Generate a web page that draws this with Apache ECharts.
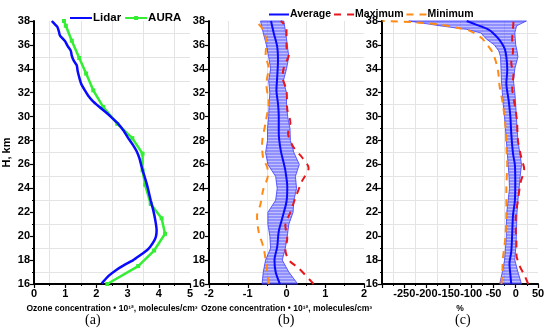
<!DOCTYPE html>
<html><head><meta charset="utf-8">
<script src="https://cdn.jsdelivr.net/npm/echarts@6/dist/echarts.min.js"></script>
<style>html,body{margin:0;padding:0;background:#fff}#c{width:550px;height:335px}</style>
</head><body><div id="c"></div>
<script>
// ---- Panel (a): ozone concentration profiles [value, altitude km]
const lidar = [[0.57,38],[0.68,37.7],[0.75,37.5],[0.8,37.1],[0.83,36.8],[0.93,36.5],[1.0,36.3],[1.08,35.9],[1.18,35.5],[1.21,35.1],[1.27,34.7],[1.37,34.3],[1.4,33.8],[1.47,33.1],[1.52,32.7],[1.63,32.2],[1.75,31.7],[1.9,31.25],[2.1,30.8],[2.33,30.3],[2.5,29.9],[2.7,29.4],[2.88,28.8],[3.02,28.2],[3.18,27.6],[3.29,27.1],[3.38,26.5],[3.45,25.8],[3.52,25.2],[3.6,24.5],[3.66,23.9],[3.74,23.0],[3.82,22.2],[3.89,21.3],[3.93,20.5],[3.91,20.0],[3.85,19.6],[3.72,19.1],[3.61,18.8],[3.4,18.4],[3.18,18.0],[2.9,17.6],[2.65,17.2],[2.4,16.7],[2.17,16.05]];
const aura = [[0.96,38],[1.02,37.6],[1.21,36.35],[1.45,34.9],[1.67,33.6],[1.9,32.2],[2.22,30.8],[2.67,29.4],[3.15,28.2],[3.48,26.9],[3.48,25.5],[3.56,24.3],[3.74,22.7],[4.09,21.5],[4.2,20.2],[3.85,18.8],[3.34,17.5],[2.35,16.0]];

// ---- Panel (b): absolute difference
const bAvg = [[-0.17,16],[-0.28,17],[-0.31,18],[-0.24,19.1],[-0.2,20.4],[-0.11,21.5],[0,22.9],[0.02,24.1],[-0.03,25.5],[-0.07,26.1],[-0.15,27.2],[-0.2,28.6],[-0.2,30],[-0.22,31.1],[-0.26,32.2],[-0.24,33.3],[-0.22,34.7],[-0.24,35.85],[-0.33,37],[-0.40,38]];
const bBandH = [16,17,18,19,20,21,22,23,24,25,26,27,28,29,30,31,32,33,34,35,36,37,38];
const bBandLo = [-0.63,-0.6,-0.54,-0.41,-0.43,-0.48,-0.48,-0.28,-0.24,-0.28,-0.48,-0.54,-0.49,-0.49,-0.46,-0.45,-0.43,-0.46,-0.41,-0.46,-0.52,-0.6,-0.67];
const bBandHi = [0.29,0.06,-0.11,-0.03,0.02,0.06,0.17,0.19,0.26,0.23,0.33,0.19,0.1,0.09,0.03,0.0,0.0,-0.08,0.0,0.06,0.02,-0.02,-0.07];
const bMax = [[0.7,16],[0.32,17.3],[0.06,18],[-0.03,18.9],[0.02,19.8],[-0.03,20.9],[0.1,22],[0.23,23.2],[0.4,24.6],[0.57,25.7],[0.4,26.6],[0.19,27.4],[0.04,28.6],[0.1,29.5],[0.02,30.6],[0,32.2],[-0.1,33.3],[-0.07,34.1],[0.06,35.2],[0,35.8],[0,37.4],[-0.15,38]];
const bMin = [[-0.46,16],[-0.52,17.6],[-0.59,19],[-0.72,20.4],[-0.76,21.7],[-0.67,22.7],[-0.6,23.9],[-0.48,25.1],[-0.5,25.8],[-0.6,26.5],[-0.63,27.7],[-0.54,29.5],[-0.46,31.2],[-0.52,32.7],[-0.46,34.1],[-0.54,35.1],[-0.52,36.3],[-0.63,37.4],[-0.8,38]];

// ---- Panel (c): relative difference, %
const cAvg = [[-10,16],[-12,16.8],[-14,17.7],[-10,18.7],[-8,20.1],[-6,21.8],[-2,22.9],[-1,24.6],[-2,26],[-6,26.9],[-10,28.6],[-12,30],[-16,31.4],[-21,32.8],[-19,33.9],[-21,35],[-25,35.7],[-36,36.4],[-51,37],[-62,37.3],[-89,37.7],[-110,38]];
const cBandH = [16,17,18,19,20,21,22,23,24,25,26,27,28,29,30,31,32,33,34,35,35.5,36,36.5,37,37.3,37.6,38];
const cBandLo = [-36,-30,-25,-23,-21,-21,-20,-17,-14,-15,-17,-19,-21,-23,-25,-28,-30,-32,-33,-34,-38,-48,-66,-78,-110,-170,-240];
const cBandHi = [13,5,-2,0,1.5,2,3,5,7.6,10,13,9,5,3,1.5,0,-2,-5,-2,5,3,0,-1,-2,0,2,24];
const cMax = [[28,16],[20,16.7],[9,17.5],[1.5,18.5],[1.5,19.5],[0,20.5],[0,21.5],[5,23],[11,24.5],[19,25.6],[13,26.5],[5,28],[3,29.5],[0,30.5],[-8,32.5],[-5,33.5],[-10,34.5],[-6,35.5],[-8,36.5],[-6,37.4],[-5,38]];
const cMin = [[-32,16],[-30,17],[-29,18],[-23,20],[-21,22],[-21,24],[-19,26],[-21,27.5],[-23,29.2],[-29,31.1],[-36,32.5],[-40,33.9],[-51,35.3],[-66,36.1],[-77,36.6],[-104,37.2],[-126,37.4],[-171,37.7],[-231,37.9],[-299,38]];

const xNameA = 'Ozone concentration \u2022 10\u00B9\u00B2, molecules/cm\u00B3';

// striped band pattern
const pat = document.createElement('canvas');
pat.width = 4; pat.height = 3;
const pc = pat.getContext('2d');
pc.fillStyle = 'rgba(70,70,255,0.6)'; pc.fillRect(0,0,4,2);
pc.fillStyle = 'rgba(150,150,255,0.6)'; pc.fillRect(0,2,4,1);

function bandSeries(lo, hi, hs, idx){
  return {
    type:'custom', xAxisIndex:idx, yAxisIndex:idx, z:1, silent:true,
    data: hs.map((h,i)=>[lo[i],hi[i],h]),
    encode:{x:[0,1], y:2},
    renderItem:function(params, api){
      if (params.dataIndex !== 0) return null;
      const pts = [];
      for (let i=0;i<hs.length;i++) pts.push(api.coord([lo[i], hs[i]]));
      for (let i=hs.length-1;i>=0;i--) pts.push(api.coord([hi[i], hs[i]]));
      return {type:'polygon', shape:{points:pts},
        style:{fill:{image:pat, repeat:'repeat'}, stroke:'rgba(60,60,255,0.8)', lineWidth:1}};
    }
  };
}

const FONT = '"Liberation Sans", Arial, sans-serif';
const lblStyle = {color:'#000', fontWeight:'bold', fontSize:11, fontFamily:FONT};
function yAx(idx, name){
  return {gridIndex:idx, type:'value', min:16, max:38, interval:2,
    name:name||'', nameLocation:'middle', nameGap:22,
    nameTextStyle:{color:'#000', fontWeight:'bold', fontSize:11, fontFamily:FONT},
    axisLine:{show:true, onZero:false, lineStyle:{color:'#000', width:2}},
    axisTick:{show:true, length:4, lineStyle:{color:'#000', width:1.2}},
    minorTick:{show:true, splitNumber:2, length:2, lineStyle:{color:'#000'}},
    splitLine:{show:false},
    minorSplitLine:{show:true, lineStyle:{color:'#e4e4e4', width:1}},
    axisLabel:Object.assign({margin:4}, lblStyle)};
}
function xAx(idx, min, max, interval, name, fmt){
  return {gridIndex:idx, type:'value', min:min, max:max, interval:interval,
    name:name, nameLocation:'middle', nameGap:19,
    nameTextStyle:{color:'#000', fontWeight:'bold', fontSize:8.5, fontFamily:FONT},
    axisLine:{show:true, onZero:false, lineStyle:{color:'#000', width:2}},
    axisTick:{show:true, length:4, lineStyle:{color:'#000', width:1.2}},
    minorTick:{show:true, splitNumber:2, length:2, lineStyle:{color:'#000'}},
    splitLine:{show:false},
    minorSplitLine:{show:true, lineStyle:{color:'#e4e4e4', width:1}},
    axisLabel:Object.assign({margin:4, showMinLabel:true, showMaxLabel:true, formatter:fmt}, lblStyle)};
}

const RED = '#e8161b', ORANGE = '#ff8a14', BLUE = '#0a0aff', GREEN = '#33ee33';
const noSym = {opacity:0};

const option = {
  backgroundColor:'#fff',
  animation:false,
  grid:[
    {left:34, top:21, width:156, height:263},
    {left:209, top:21, width:155, height:263},
    {left:382, top:21, width:156, height:263}
  ],
  legend:[
    {data:[{name:'Lidar', itemStyle:noSym},{name:'AURA'}], left:64, top:7, itemWidth:22, itemHeight:5, itemGap:3,
     textStyle:{color:'#000', fontWeight:'bold', fontSize:11.5, fontFamily:FONT, padding:[0,0,0,-4]}},
    {data:[{name:'Average', itemStyle:noSym},{name:'Maximum', itemStyle:noSym},{name:'Minimum', itemStyle:noSym}],
     left:263, top:4, itemWidth:20, itemHeight:8, itemGap:2,
     textStyle:{color:'#000', fontWeight:'bold', fontSize:10.5, fontFamily:FONT, padding:[0,0,0,-4]}}
  ],
  xAxis:[
    xAx(0, 0, 5, 1, xNameA),
    xAx(1, -2, 2, 1, xNameA),
    xAx(2, -300, 50, 50, '%', function(v){ return v === -300 ? '' : String(v); })
  ],
  yAxis:[ yAx(0,'H, km'), yAx(1), yAx(2) ],
  graphic:[
    {type:'text', left:85, top:313, style:{text:'(a)', fontSize:14, fontFamily:'Liberation Serif', fill:'#000'}},
    {type:'text', left:278, top:313, style:{text:'(b)', fontSize:14, fontFamily:'Liberation Serif', fill:'#000'}},
    {type:'text', left:455, top:313, style:{text:'(c)', fontSize:14, fontFamily:'Liberation Serif', fill:'#000'}}
  ],
  series:[
    {name:'Lidar', type:'line', xAxisIndex:0, yAxisIndex:0, data:lidar, symbol:'none', smooth:0.2,
     lineStyle:{color:BLUE, width:2.5}, itemStyle:{color:BLUE}, z:3},
    {name:'AURA', type:'line', xAxisIndex:0, yAxisIndex:0, data:aura, symbol:'rect', symbolSize:4,
     lineStyle:{color:GREEN, width:2.5}, itemStyle:{color:GREEN}, z:2},

    bandSeries(bBandLo, bBandHi, bBandH, 1),
    {name:'Average', type:'line', xAxisIndex:1, yAxisIndex:1, data:bAvg, symbol:'none', smooth:0.3,
     lineStyle:{color:BLUE, width:2}, itemStyle:{color:BLUE}, z:4},
    {name:'Maximum', type:'line', xAxisIndex:1, yAxisIndex:1, data:bMax, symbol:'none', smooth:0.3,
     lineStyle:{color:RED, width:2, type:[7,6]}, itemStyle:{color:RED}, z:3},
    {name:'Minimum', type:'line', xAxisIndex:1, yAxisIndex:1, data:bMin, symbol:'none', smooth:0.3,
     lineStyle:{color:ORANGE, width:2, type:[7,6]}, itemStyle:{color:ORANGE}, z:3},

    bandSeries(cBandLo, cBandHi, cBandH, 2),
    {name:'Average', type:'line', xAxisIndex:2, yAxisIndex:2, data:cAvg, symbol:'none', smooth:0.3,
     lineStyle:{color:BLUE, width:2}, itemStyle:{color:BLUE}, z:4},
    {name:'Maximum', type:'line', xAxisIndex:2, yAxisIndex:2, data:cMax, symbol:'none', smooth:0.3,
     lineStyle:{color:RED, width:2, type:[7,6]}, itemStyle:{color:RED}, z:3},
    {name:'Minimum', type:'line', xAxisIndex:2, yAxisIndex:2, data:cMin, symbol:'none', smooth:0.3,
     lineStyle:{color:ORANGE, width:2, type:[7,6]}, itemStyle:{color:ORANGE}, z:3}
  ]
};
const chart = echarts.init(document.getElementById('c'), null, {renderer:'canvas'});
chart.setOption(option);
</script></body></html>
